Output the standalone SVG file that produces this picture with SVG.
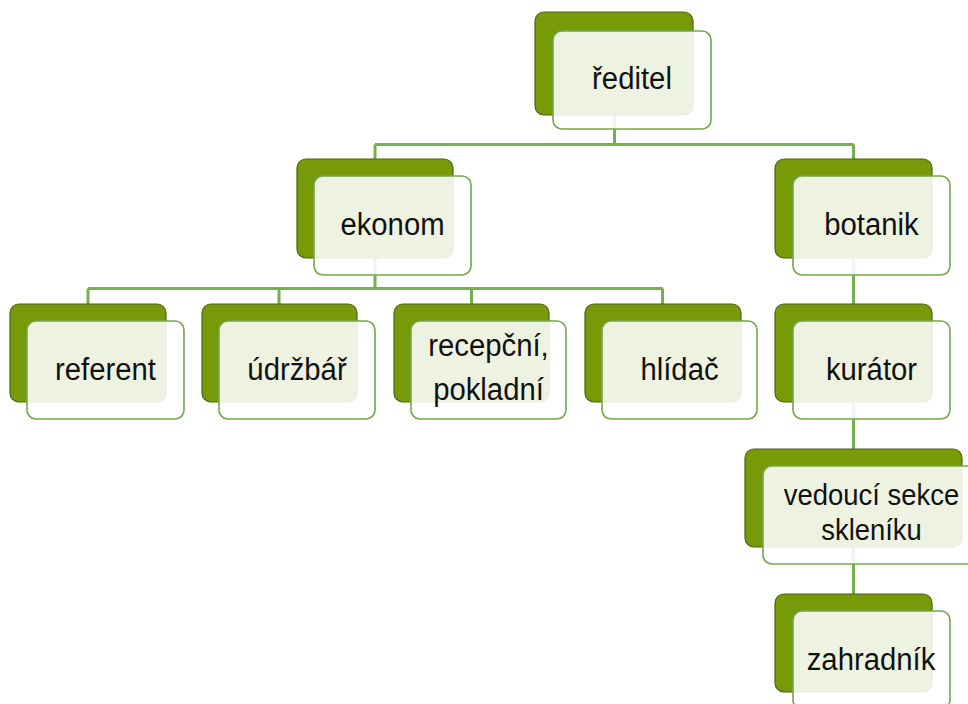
<svg xmlns="http://www.w3.org/2000/svg" width="968" height="704" viewBox="0 0 968 704">
<style>
.back{fill:#779a09;stroke:#4e6210;stroke-width:1.2}
.front{fill:#ffffff;fill-opacity:0.88;stroke:#72a84c;stroke-width:1.6}
.conn{fill:none;stroke:#75b04f;stroke-width:3}
.lbl{font-family:"Liberation Sans",Arial,sans-serif;font-size:31.5px;fill:#111;text-anchor:middle}
.lbl2{font-family:"Liberation Sans",Arial,sans-serif;font-size:29.5px;fill:#111;text-anchor:middle}
</style>
<rect width="968" height="704" fill="#ffffff"/>
<g id="connectors">
<path class="conn" d="M614.5 115V144.5M375 144.5H853.5M375 144.5V159M853.5 144.5V159"/>
<path class="conn" d="M375 258V288.5M88 288.5H662.5M88 288.5V304M279 288.5V304M471.5 288.5V304M662.5 288.5V304"/>
<path class="conn" d="M853.5 258V304M853.5 402V449M853.5 547V594"/>
</g>
<g id="n-reditel">
<rect class="back" x="535" y="12" width="158" height="103" rx="9"/>
<rect class="front" x="553" y="31" width="158" height="98" rx="9"/>
<text class="lbl" transform="translate(632 89) scale(0.93 1)">ředitel</text>
</g>
<g id="n-ekonom">
<rect class="back" x="297" y="159" width="156" height="99" rx="9"/>
<rect class="front" x="314" y="176" width="157" height="99" rx="9"/>
<text class="lbl" transform="translate(392.5 235) scale(0.93 1)">ekonom</text>
</g>
<g id="n-botanik">
<rect class="back" x="775" y="159" width="157" height="99" rx="9"/>
<rect class="front" x="793" y="176" width="157" height="99" rx="9"/>
<text class="lbl" transform="translate(871.5 235) scale(0.93 1)">botanik</text>
</g>
<g id="n-referent">
<rect class="back" x="10" y="304" width="156" height="98" rx="9"/>
<rect class="front" x="27" y="321" width="157" height="98" rx="9"/>
<text class="lbl" transform="translate(105.5 380) scale(0.93 1)">referent</text>
</g>
<g id="n-udrzbar">
<rect class="back" x="202" y="304" width="155" height="98" rx="9"/>
<rect class="front" x="219" y="321" width="156" height="98" rx="9"/>
<text class="lbl" transform="translate(297 380) scale(0.93 1)">údržbář</text>
</g>
<g id="n-recepcni">
<rect class="back" x="394" y="304" width="155" height="98" rx="9"/>
<rect class="front" x="411" y="321" width="155" height="98" rx="9"/>
<text class="lbl" transform="translate(488.5 356) scale(0.93 1)">recepční,</text>
<text class="lbl" transform="translate(488.5 400) scale(0.93 1)">pokladní</text>
</g>
<g id="n-hlidac">
<rect class="back" x="585" y="304" width="156" height="98" rx="9"/>
<rect class="front" x="602" y="321" width="155" height="98" rx="9"/>
<text class="lbl" transform="translate(679.5 380) scale(0.93 1)">hlídač</text>
</g>
<g id="n-kurator">
<rect class="back" x="775" y="304" width="157" height="98" rx="9"/>
<rect class="front" x="793" y="321" width="157" height="98" rx="9"/>
<text class="lbl" transform="translate(871.5 380) scale(0.93 1)">kurátor</text>
</g>
<g id="n-vedouci">
<rect class="back" x="745" y="449" width="217" height="98" rx="9"/>
<rect class="front" x="763" y="466" width="217" height="98" rx="9"/>
<text class="lbl2" transform="translate(871.5 505) scale(0.93 1)">vedoucí sekce</text>
<text class="lbl2" transform="translate(871.5 540) scale(0.93 1)">skleníku</text>
</g>
<g id="n-zahradnik">
<rect class="back" x="775" y="594" width="157" height="98" rx="9"/>
<rect class="front" x="793" y="611" width="157" height="98" rx="9"/>
<text class="lbl" transform="translate(871 670) scale(0.93 1)">zahradník</text>
</g>
</svg>
